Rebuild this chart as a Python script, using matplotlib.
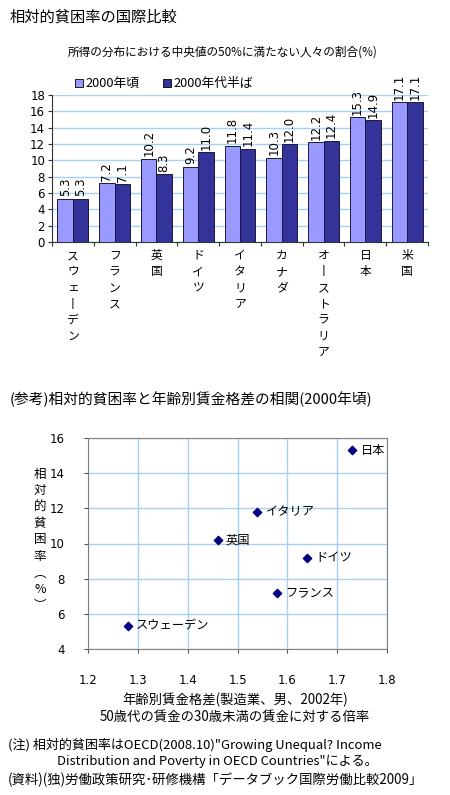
import numpy as np
import matplotlib
matplotlib.use('Agg')
import matplotlib.pyplot as plt
from matplotlib.patches import Rectangle

plt.rcParams['font.family'] = ['Noto Sans CJK JP', 'DejaVu Sans']

countries = ['スウェーデン', 'フランス', '英国', 'ドイツ', 'イタリア', 'カナダ', 'オーストラリア', '日本', '米国']
rate_2000 = [5.3, 7.2, 10.2, 9.2, 11.8, 10.3, 12.2, 15.3, 17.1]
rate_mid = [5.3, 7.1, 8.3, 11.0, 11.4, 12.0, 12.4, 14.9, 17.1]

sc_names = ['日本', 'イタリア', '英国', 'ドイツ', 'フランス', 'スウェーデン']
sc_wage = [1.73, 1.54, 1.46, 1.64, 1.58, 1.28]
sc_rate = [15.3, 11.8, 10.2, 9.2, 7.2, 5.3]

light = '#9999FF'
dark = '#333399'
grid_c = '#A8D0F5'

fig = plt.figure(figsize=(4.5, 7.95), dpi=100)

fig.text(10 / 450, 1 - 17 / 795, '相対的貧困率の国際比較', fontsize=11, va='center', ha='left')
fig.text(223 / 450, 1 - 52 / 795, '所得の分布における中央値の50%に満たない人々の割合(%)',
         fontsize=8.4, va='center', ha='center')

# legend
for x0, lab, c in [(75, '2000年頃', light), (163, '2000年代半ば', dark)]:
    fig.patches.append(Rectangle((x0 / 450, 1 - 87 / 795), 8 / 450, 8 / 795,
                                 transform=fig.transFigure, facecolor=c, edgecolor='black', lw=0.6))
    fig.text((x0 + 10) / 450, 1 - 83 / 795, lab, fontsize=9.2, va='center', ha='left')

# bar chart
ax = fig.add_axes([52 / 450, 1 - 242 / 795, 376 / 450, 147 / 795])
x = np.arange(len(countries))
w = 0.37
b1 = ax.bar(x - w / 2, rate_2000, w, color=light, edgecolor='#1a1a40', lw=0.7, zorder=3)
b2 = ax.bar(x + w / 2, rate_mid, w, color=dark, edgecolor='#1a1a40', lw=0.7, zorder=3)
for bars, vals in [(b1, rate_2000), (b2, rate_mid)]:
    for r, v in zip(bars, vals):
        ax.text(r.get_x() + r.get_width() / 2, v + 0.3, f'{v:.1f}', rotation=90,
                ha='center', va='bottom', fontsize=8.5, family='DejaVu Sans', clip_on=False)
ax.set_xlim(-0.5, len(countries) - 0.5)
ax.set_ylim(0, 18)
ax.set_yticks(range(0, 19, 2))
ax.yaxis.grid(True, color=grid_c, lw=1, zorder=0)
ax.set_xticks(np.arange(-0.5, len(countries), 1))
ax.set_xticklabels([])
ax.tick_params(axis='x', length=3, color='#333333')
ax.tick_params(axis='y', labelsize=8.5, length=3, color='#333333', pad=2)
for lbl in ax.get_yticklabels():
    lbl.set_family('DejaVu Sans')
for s in ['top', 'right']:
    ax.spines[s].set_visible(False)
ax.spines['left'].set_color('#333333')
ax.spines['bottom'].set_color('#333333')
for i, name in enumerate(countries):
    txt = '\n'.join(name.replace('ー', '丨'))
    ax.annotate(txt, xy=(i, 0), xycoords='data', xytext=(0, -5), textcoords='offset points',
                ha='center', va='top', fontsize=8.5, linespacing=1.32)

fig.text(10 / 450, 1 - 399 / 795, '(参考)相対的貧困率と年齢別賃金格差の相関(2000年頃)',
         fontsize=10.6, va='center', ha='left')

# scatter
ax2 = fig.add_axes([88 / 450, 1 - 649 / 795, 299 / 450, 211 / 795])
ax2.scatter(sc_wage, sc_rate, marker='D', s=18, color='#000080', zorder=3)
for n, xv, yv in zip(sc_names, sc_wage, sc_rate):
    ax2.annotate(n, (xv, yv), xytext=(6, 0), textcoords='offset points',
                 ha='left', va='center', fontsize=8.8)
ax2.set_xlim(1.2, 1.8)
ax2.set_ylim(4, 16)
ax2.set_xticks(np.arange(1.2, 1.81, 0.1))
ax2.set_yticks(range(4, 17, 2))
ax2.grid(True, color=grid_c, lw=1, zorder=0)
ax2.tick_params(labelsize=8.5, length=3, color='#555555')
ax2.tick_params(axis='x', pad=15)
ax2.tick_params(axis='y', pad=14)
for lbl in ax2.get_xticklabels() + ax2.get_yticklabels():
    lbl.set_family('DejaVu Sans')
for s in ax2.spines.values():
    s.set_color('#808080')
ylab = '\n'.join(['相', '対', '的', '貧', '困', '率', '︵', '%', '︶'])
fig.text(40 / 450, 1 - 540 / 795, ylab, fontsize=9, ha='center', va='center', linespacing=1.35)

fig.text(235 / 450, 1 - 700 / 795, '年齢別賃金格差(製造業、男、2002年)', fontsize=9.6, ha='center', va='center')
fig.text(235 / 450, 1 - 717 / 795, '50歳代の賃金の30歳未満の賃金に対する倍率', fontsize=9.6, ha='center', va='center')

fig.text(8 / 450, 1 - 745 / 795, '(注) 相対的貧困率はOECD(2008.10)"Growing Unequal? Income',
         fontsize=9.4, ha='left', va='center')
fig.text(57 / 450, 1 - 761 / 795, 'Distribution and Poverty in OECD Countries"による。',
         fontsize=9.4, ha='left', va='center')
fig.text(8 / 450, 1 - 780 / 795, '(資料)(独)労働政策研究･研修機構「データブック国際労働比較2009」',
         fontsize=9.6, ha='left', va='center')

fig.savefig('out.png', dpi=100)
